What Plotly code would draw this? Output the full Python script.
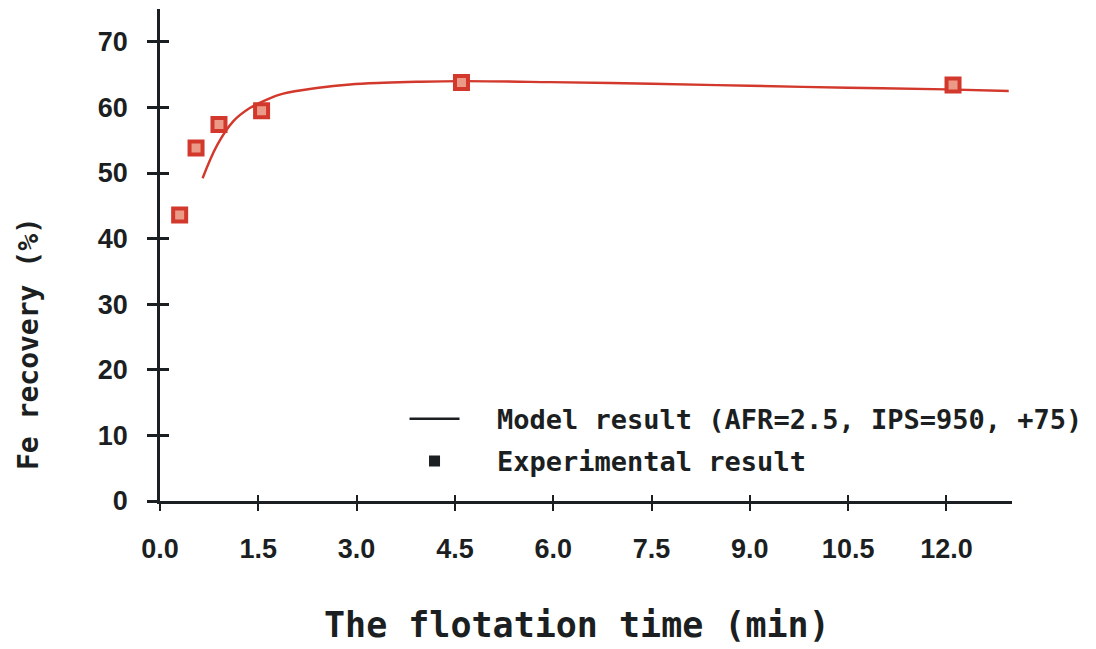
import plotly.graph_objects as go

# experimental points
time_exp = [0.3, 0.55, 0.9, 1.55, 4.6, 12.1]
fe_exp = [43.6, 53.8, 57.4, 59.5, 63.8, 63.4]

# model curve
time_model = [0.65, 0.87, 1.12, 1.37, 1.63, 1.88, 2.39, 2.9, 3.41, 3.92, 4.59,
              5.95, 7.5, 9.0, 10.5, 12.0, 12.95]
fe_model = [49.2, 54.2, 57.9, 59.9, 61.2, 62.1, 62.95, 63.5, 63.75, 63.9, 64.0,
            63.85, 63.6, 63.3, 63.0, 62.75, 62.5]

x_ticks = [0, 1.5, 3.0, 4.5, 6.0, 7.5, 9.0, 10.5, 12.0]
y_ticks = [0, 10, 20, 30, 40, 50, 60, 70]

RED = '#d2382b'
INK = '#1c1f22'
TICK_FONT = dict(family='Liberation Sans', size=27, color=INK, weight='bold')
MONO = 'DejaVu Sans Mono'

fig = go.Figure()

fig.add_trace(go.Scatter(
    x=time_model, y=fe_model, mode='lines', line_shape='spline',
    line=dict(color=RED, width=2.4), showlegend=False,
))
fig.add_trace(go.Scatter(
    x=time_exp, y=fe_exp, mode='markers',
    marker=dict(symbol='square', size=13, color='#ec9a88',
                line=dict(color=RED, width=4)),
    showlegend=False,
))

# legend entries are drawn in black on the original
fig.add_trace(go.Scatter(
    x=[None], y=[None], mode='lines', line=dict(color=INK, width=2.5),
    name='  Model result (AFR=2.5, IPS=950, +75)', legendgroup='a',
))
fig.add_trace(go.Scatter(
    x=[None], y=[None], mode='markers',
    marker=dict(symbol='square', size=11, color=INK),
    name='  Experimental result', legendgroup='b',
))

# page body has an 8px margin, so the figure is 8px smaller each way
fig.update_layout(
    width=1088, height=641,
    margin=dict(l=152, r=84, t=1, b=148),
    paper_bgcolor='white', plot_bgcolor='white',
    showlegend=True,
    legend=dict(x=0.287, y=0.216, xanchor='left', yanchor='top',
                bgcolor='rgba(0,0,0,0)', itemwidth=50,
                font=dict(family=MONO, size=27, color=INK, weight='bold'),
                tracegroupgap=4),
    xaxis=dict(
        range=[0, 13], tickvals=x_ticks, tickformat='.1f', automargin=False,
        showgrid=False, zeroline=False,
        showline=True, linecolor=INK, linewidth=2.5,
        ticks='outside', ticklen=7, tickwidth=2, tickcolor=INK,
        tickfont=TICK_FONT, ticklabelstandoff=15,
    ),
    yaxis=dict(
        range=[0, 75], tickvals=y_ticks, automargin=False,
        showgrid=False, zeroline=False,
        showline=True, linecolor=INK, linewidth=2.5,
        ticks='outside', ticklen=10, tickwidth=2.5, tickcolor=INK,
        tickfont=TICK_FONT, ticklabelstandoff=14,
    ),
    # overlay axes give the crossing tick marks
    xaxis2=dict(range=[0, 13], tickvals=x_ticks, overlaying='x', automargin=False,
                showticklabels=False, showgrid=False, zeroline=False,
                ticks='inside', ticklen=6, tickwidth=2, tickcolor=INK,
                anchor='y', side='bottom'),
    yaxis2=dict(range=[0, 75], tickvals=y_ticks, overlaying='y', automargin=False,
                showticklabels=False, showgrid=False, zeroline=False,
                ticks='inside', ticklen=9, tickwidth=2.5, tickcolor=INK,
                anchor='x', side='left'),
)

# axis titles as annotations (the y title sits below the axis centre)
fig.add_annotation(text='The flotation time (min)', xref='paper', yref='paper',
                   x=0.49, y=-0.252, xanchor='center', yanchor='middle',
                   showarrow=False,
                   font=dict(family=MONO, size=35, color=INK, weight='bold'))
fig.add_annotation(text='Fe recovery (%)', xref='paper', yref='paper',
                   x=-0.155, y=0.321, xanchor='center', yanchor='middle',
                   textangle=-90, showarrow=False,
                   font=dict(family=MONO, size=28, color=INK, weight='bold'))

# invisible trace so the overlay axes are rendered
fig.add_trace(go.Scatter(x=[None], y=[None], xaxis='x2', yaxis='y2',
                         showlegend=False, hoverinfo='skip'))

fig.write_html("out.html")
